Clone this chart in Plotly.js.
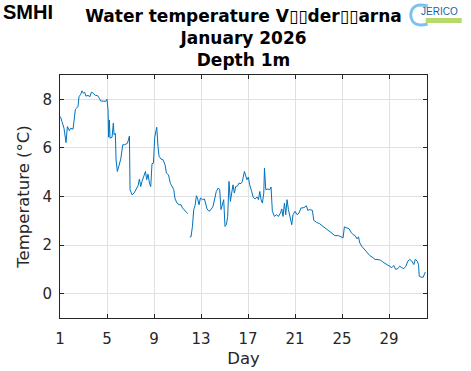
<!DOCTYPE html>
<html>
<head>
<meta charset="utf-8">
<script src="https://cdn.plot.ly/plotly-3.0.1.min.js"></script>
<style>html,body{margin:0;padding:0;background:#fff;}#chart{width:471px;height:371px;}</style>
</head>
<body>
<div id="chart"></div>
<script>
const days = [1.00,1.06,1.17,1.34,1.51,1.63,1.80,1.91,2.11,2.19,2.31,2.42,2.53,2.62,2.76,2.87,2.99,3.10,3.21,3.38,3.55,3.67,3.84,4.01,4.18,4.35,4.46,4.69,4.91,5.00,5.09,5.14,5.20,5.26,5.43,5.54,5.60,5.71,5.77,5.88,5.99,6.17,6.34,6.51,6.74,6.91,6.96,7.13,7.30,7.47,7.64,7.76,7.87,7.98,8.15,8.27,8.38,8.49,8.61,8.72,8.83,8.95,9.06,9.23,9.34,9.43,9.60,9.77,9.94,10.06,10.23,10.40,10.57,10.68,10.79,10.96,11.13,11.30,11.42,11.59,11.76,11.87,11.95,12.04,12.15,12.27,12.38,12.49,12.61,12.72,12.83,12.95,13.12,13.29,13.40,13.51,13.68,13.85,14.02,14.19,14.30,14.47,14.59,14.70,14.82,14.93,15.04,15.16,15.27,15.38,15.50,15.61,15.72,15.84,15.95,16.12,16.23,16.40,16.52,16.69,16.80,16.91,17.03,17.14,17.31,17.43,17.60,17.77,17.89,18.00,18.11,18.22,18.34,18.40,18.51,18.68,18.85,18.96,19.07,19.25,19.42,19.59,19.76,19.87,19.98,20.10,20.21,20.32,20.44,20.55,20.72,20.83,21.00,21.17,21.34,21.51,21.68,21.85,21.97,22.08,22.25,22.48,22.59,22.82,23.10,23.38,23.67,23.95,24.23,24.40,24.69,24.91,25.09,25.20,25.37,25.60,25.77,25.94,26.11,26.28,26.40,26.51,26.68,26.91,27.13,27.36,27.64,27.81,27.98,28.27,28.49,28.78,29.06,29.23,29.40,29.57,29.74,29.91,30.08,30.26,30.43,30.60,30.77,30.94,31.11,31.23,31.40,31.51,31.57,31.74,31.91,32.02,32.08];
const temps = [7.30,7.25,7.08,6.81,6.22,6.88,6.71,6.81,6.77,7.02,7.59,7.64,7.70,8.11,8.20,8.35,8.25,8.29,8.13,8.16,8.11,8.29,8.25,8.16,8.16,8.04,7.93,7.92,7.92,8.00,7.56,6.44,7.15,6.40,6.44,7.02,6.54,6.60,5.51,5.03,5.26,5.54,6.13,6.13,6.19,6.49,4.28,4.07,4.14,4.31,4.44,4.72,4.41,4.62,4.82,5.03,4.69,4.92,4.55,4.41,5.35,5.37,6.44,6.85,6.06,5.65,5.54,5.51,5.30,4.96,4.89,4.53,4.39,4.28,3.90,3.73,3.66,3.66,3.53,3.46,3.35,3.29,null,2.34,2.34,2.77,3.46,3.62,4.03,3.90,3.66,3.94,3.87,3.90,3.66,3.49,3.39,3.46,3.59,3.90,4.21,4.35,4.28,3.46,3.73,3.87,2.77,2.84,3.18,4.62,3.80,4.28,4.48,4.14,4.41,4.44,4.55,4.53,4.62,5.03,4.89,4.69,4.80,4.48,4.21,3.98,3.90,3.98,3.87,4.21,3.87,3.73,4.14,5.17,4.28,4.31,4.28,4.39,3.39,3.18,3.25,3.18,3.32,3.49,3.18,3.73,3.25,3.87,3.46,3.25,2.84,3.25,3.39,3.25,3.32,3.53,3.53,3.57,3.62,3.43,3.46,3.43,3.02,2.94,2.88,2.77,2.67,2.57,2.47,2.39,2.39,2.34,2.30,2.75,2.71,2.67,2.53,2.43,2.39,2.26,2.34,2.09,1.95,1.82,1.68,1.57,1.48,1.41,1.41,1.38,1.30,1.20,1.11,1.07,1.16,1.00,1.03,1.13,1.07,1.03,1.13,1.34,1.41,1.34,1.20,1.41,1.34,1.20,0.72,0.68,0.68,0.89,0.89];
const xTicks = [1,5,9,13,17,21,25,29];
const yTicks = [0,2,4,6,8];
const titleLines = ["Water temperature V\u25AF\u25AFder\u25AF\u25AFarna", "January 2026", "Depth 1m"];

const axisColor = '#262626';
const gridColor = '#e0e0e0';
const font = 'DejaVu Sans, sans-serif';

const trace = {
  x: days, y: temps, type: 'scatter', mode: 'lines',
  line: {color: '#0072BD', width: 1}, connectgaps: false, hoverinfo: 'skip'
};

function px(x) { return (x - 60.3) / 367; }
function py(y) { return (318 - y) / 243; }

const layout = {
  width: 471, height: 371,
  margin: {l: 60.3, r: 43.7, t: 75, b: 53, pad: 0},
  paper_bgcolor: '#fff', plot_bgcolor: '#fff',
  showlegend: false,
  font: {family: font, color: axisColor},
  title: {
    text: '<b>' + titleLines.join('<br>') + '</b>',
    font: {family: font, size: 17, color: '#000'},
    xref: 'paper', x: 0.5, xanchor: 'center',
    yref: 'container', y: 1 - 22/371, yanchor: 'top'
  },
  xaxis: {
    range: [1, 32.23], tickvals: xTicks, ticktext: xTicks.map(String),
    showgrid: true, gridcolor: gridColor, gridwidth: 1,
    showline: true, linecolor: axisColor, linewidth: 1, mirror: 'ticks',
    ticks: 'inside', ticklen: 4, tickcolor: axisColor, tickwidth: 1,
    tickfont: {family: font, size: 15, color: axisColor},
    ticklabelstandoff: 7,
    zeroline: false,
    title: {text: 'Day', font: {family: font, size: 16.5, color: axisColor}, standoff: 5}
  },
  yaxis: {
    range: [-1, 9], tickvals: yTicks, ticktext: yTicks.map(String),
    showgrid: true, gridcolor: gridColor, gridwidth: 1,
    showline: true, linecolor: axisColor, linewidth: 1, mirror: 'ticks',
    ticks: 'inside', ticklen: 4, tickcolor: axisColor, tickwidth: 1,
    tickfont: {family: font, size: 15, color: axisColor},
    ticklabelstandoff: 4,
    zeroline: false,
    title: {text: 'Temperature (°C)', font: {family: font, size: 16.5, color: axisColor}, standoff: 8}
  },
  annotations: [
    {text: '<b>SMHI</b>', xref: 'paper', yref: 'paper', x: px(28), y: py(12),
     xanchor: 'center', yanchor: 'middle', showarrow: false,
     font: {family: 'Liberation Sans, sans-serif', size: 20, color: '#000'}},
    {text: 'JERICO', xref: 'paper', yref: 'paper', x: px(440), y: py(11),
     xanchor: 'center', yanchor: 'middle', showarrow: false,
     font: {family: 'Liberation Sans, sans-serif', size: 10, color: '#1d5fa6'}}
  ],
  shapes: [
    {type: 'path', xref: 'paper', yref: 'paper',
     path: 'M ' + px(428) + ',' + py(6) + ' Q ' + px(412) + ',' + py(2) + ' ' + px(411) + ',' + py(15) +
           ' Q ' + px(412) + ',' + py(28) + ' ' + px(428) + ',' + py(24),
     line: {color: '#7cc3ea', width: 3}, layer: 'above'},
    {type: 'rect', xref: 'paper', yref: 'paper',
     x0: px(426), x1: px(462), y0: py(23), y1: py(18),
     line: {width: 0}, fillcolor: '#b8d86a', layer: 'above'}
  ]
};

Plotly.newPlot('chart', [trace], layout, {staticPlot: true, displayModeBar: false});
</script>
</body>
</html>
